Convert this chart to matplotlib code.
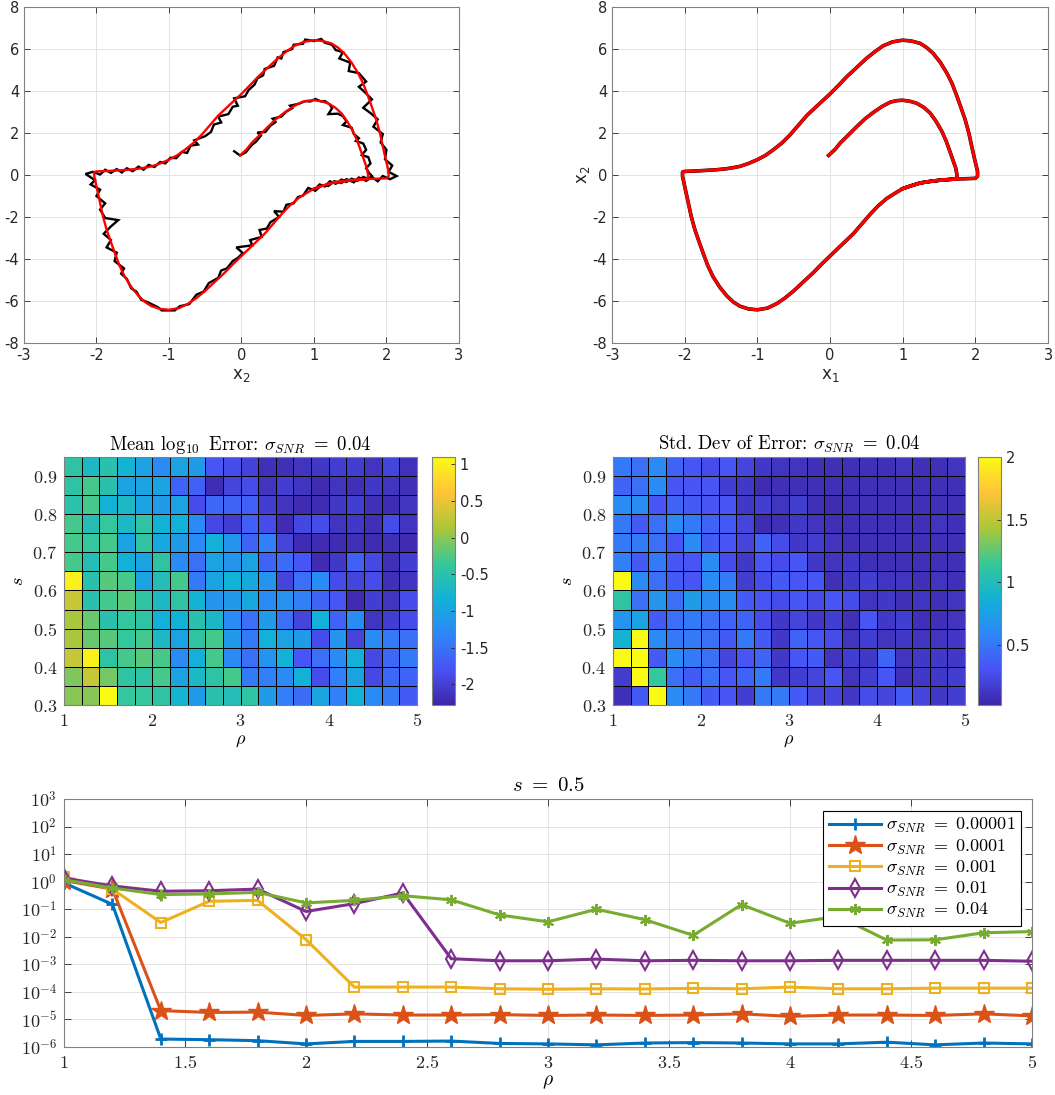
import matplotlib
matplotlib.use('Agg')
import matplotlib.pyplot as plt
import numpy as np
from matplotlib.colors import LinearSegmentedColormap
from matplotlib.ticker import FuncFormatter, NullLocator

plt.rcParams['mathtext.fontset'] = 'cm'
plt.rcParams['axes.unicode_minus'] = False

# =============== phase portrait data ===============
# reconstructed trajectory: inner arc from (0,1), then the limit cycle
model_x = [-0.02, 0.07, 0.14, 0.26, 0.37, 0.48, 0.60, 0.72, 0.83, 0.92, 1.00, 1.10, 1.19, 1.29, 1.38,
           1.46, 1.54, 1.60, 1.65, 1.69, 1.73, 1.75, 1.73,
           1.62, 1.51, 1.37, 1.24, 1.12, 1.00, 0.89, 0.78, 0.66, 0.55, 0.44, 0.32, 0.16, 0.00, -0.12,
           -0.23, -0.37, -0.50, -0.62, -0.73, -0.86, -1.00, -1.12, -1.24, -1.33, -1.42, -1.52, -1.61,
           -1.68, -1.74, -1.80, -1.86, -1.91, -1.95, -1.99, -2.03, -2.03,
           -2.00, -1.85, -1.70, -1.56, -1.42, -1.33, -1.24, -1.12, -1.00, -0.89, -0.78, -0.66, -0.55,
           -0.44, -0.32, -0.16, 0.00, 0.12, 0.23, 0.37, 0.50, 0.62, 0.73, 0.86, 1.00, 1.12, 1.24,
           1.33, 1.42, 1.52, 1.61, 1.68, 1.74, 1.80, 1.86, 1.91, 1.95, 1.99, 2.03, 2.03, 2.00,
           1.85, 1.74, 1.62, 1.51, 1.37, 1.24, 1.12, 1.00]
model_y = [0.93, 1.22, 1.52, 1.93, 2.31, 2.67, 2.99, 3.27, 3.47, 3.54, 3.56, 3.51, 3.42, 3.22, 2.94,
           2.55, 2.07, 1.60, 1.12, 0.72, 0.33, -0.06, -0.19,
           -0.22, -0.25, -0.31, -0.38, -0.51, -0.65, -0.88, -1.12, -1.48, -1.88, -2.32, -2.80, -3.33,
           -3.86, -4.26, -4.65, -5.10, -5.52, -5.86, -6.12, -6.34, -6.42, -6.38, -6.25, -6.05, -5.76,
           -5.33, -4.84, -4.33, -3.78, -3.20, -2.60, -1.97, -1.33, -0.70, -0.06, 0.14,
           0.17, 0.19, 0.22, 0.25, 0.30, 0.35, 0.41, 0.55, 0.73, 0.93, 1.20, 1.53, 1.91,
           2.35, 2.83, 3.35, 3.86, 4.28, 4.68, 5.13, 5.55, 5.88, 6.15, 6.34, 6.42, 6.38, 6.27,
           6.07, 5.79, 5.35, 4.84, 4.35, 3.81, 3.23, 2.63, 2.00, 1.36, 0.75, 0.17, -0.06, -0.16,
           -0.18, -0.19, -0.22, -0.25, -0.31, -0.38, -0.51, -0.65]

# noisy measured trajectory
noisy_x = [-0.10, -0.02, 0.06, 0.14, 0.20, 0.27, 0.22, 0.33, 0.40, 0.47, 0.43, 0.55, 0.62, 0.70, 0.67,
           0.80, 0.88, 0.95, 1.02, 1.10, 1.15, 1.22, 1.25, 1.20, 1.33, 1.40, 1.45, 1.40, 1.52, 1.55,
           1.62, 1.58, 1.68, 1.72, 1.66, 1.75, 1.78, 1.72, 1.76, 1.80, 1.75,
           1.68, 1.60, 1.52, 1.45, 1.38, 1.30, 1.22, 1.15, 1.08, 1.00, 0.92, 0.85, 0.78, 0.72, 0.62,
           0.58, 0.45, 0.52, 0.40, 0.35, 0.25, 0.28, 0.12, 0.15, -0.07, 0.02, -0.05, -0.12, -0.20,
           -0.28, -0.32, -0.45, -0.52, -0.62, -0.72, -0.85, -0.92, -1.10, -1.15,
           -1.30, -1.38, -1.45, -1.52, -1.58, -1.66, -1.62, -1.75, -1.72, -1.86, -1.80, -1.90, -1.80,
           -1.70, -1.88, -1.95, -1.88, -2.00, -1.95, -2.08, -2.02, -2.15, -2.05,
           -1.95, -1.88, -1.80, -1.72, -1.65, -1.58, -1.50, -1.42, -1.35, -1.28, -1.20, -1.12, -1.05,
           -0.98, -0.90, -0.82, -0.75, -0.70, -0.60, -0.65, -0.50, -0.42, -0.38, -0.28, -0.32, -0.18,
           -0.12, -0.05, -0.10, 0.05, 0.10, 0.18, 0.22, 0.30, 0.32, 0.45, 0.50, 0.55, 0.58, 0.70,
           0.72, 0.85, 0.88, 1.00, 1.10, 1.15, 1.25, 1.30, 1.40, 1.35, 1.50, 1.48, 1.62, 1.72, 1.62,
           1.70, 1.80, 1.68, 1.78, 1.88, 1.82, 1.95, 1.92, 2.00, 1.98, 2.08, 2.03, 2.14, 2.05,
           1.95, 1.88, 1.80, 1.72, 1.62, 1.55, 1.45, 1.38, 1.28, 1.20, 1.10, 1.02]
noisy_y = [1.13, 0.93, 1.08, 1.42, 1.58, 1.88, 2.02, 2.05, 2.35, 2.52, 2.68, 2.78, 3.02, 3.18, 3.30,
           3.40, 3.52, 3.50, 3.62, 3.50, 3.52, 3.35, 3.18, 2.90, 2.92, 2.80, 2.55, 2.38, 2.25, 1.95,
           1.75, 1.62, 1.50, 1.20, 0.95, 0.85, 0.55, 0.32, 0.10, -0.05, -0.18,
           -0.10, -0.28, -0.18, -0.33, -0.22, -0.42, -0.30, -0.55, -0.45, -0.72, -0.62, -0.98, -1.05,
           -1.35, -1.42, -1.75, -1.72, -2.00, -2.25, -2.55, -2.62, -2.95, -3.10, -3.35, -3.45, -3.72,
           -3.95, -4.10, -4.45, -4.55, -4.90, -5.15, -5.55, -5.70, -6.15, -6.25, -6.45, -6.45, -6.30,
           -6.05, -5.95, -5.55, -5.40, -4.95, -4.70, -4.45, -4.10, -3.70, -3.45, -3.10, -2.80, -2.45,
           -2.15, -2.05, -1.65, -1.35, -1.00, -0.70, -0.45, -0.25, 0.05, 0.15,
           0.02, 0.25, 0.10, 0.28, 0.12, 0.32, 0.18, 0.40, 0.25, 0.48, 0.38, 0.62, 0.55,
           0.82, 0.80, 1.10, 1.05, 1.40, 1.45, 1.65, 1.85, 2.05, 2.40, 2.50, 2.78, 2.90,
           3.25, 3.30, 3.65, 3.75, 4.05, 4.30, 4.60, 4.75, 5.05, 5.20, 5.60, 5.55, 5.85, 6.00,
           6.20, 6.25, 6.45, 6.38, 6.48, 6.30, 6.20, 5.95, 5.85, 5.55, 5.35, 4.95, 4.85, 4.45, 4.20,
           3.95, 3.60, 3.20, 2.95, 2.65, 2.30, 1.95, 1.55, 1.20, 0.75, 0.45, 0.15, -0.05, -0.20,
           -0.05, -0.30, -0.10, -0.28, -0.12, -0.35, -0.20, -0.38, -0.30, -0.52, -0.50, -0.75]

# =============== parameter sweep data ===============
rho_edges = [1.0, 1.2, 1.4, 1.6, 1.8, 2.0, 2.2, 2.4, 2.6, 2.8, 3.0,
             3.2, 3.4, 3.6, 3.8, 4.0, 4.2, 4.4, 4.6, 4.8, 5.0]
s_edges = [0.30, 0.35, 0.40, 0.45, 0.50, 0.55, 0.60, 0.65, 0.70, 0.75, 0.80, 0.85, 0.90, 0.95]

# mean log10 error, rows listed from s=0.95 (top) down to s=0.30
mean_err = [
    [-0.45, -0.69, -0.52, -0.80, -1.00, -1.27, -1.00, -1.10, -1.77, -1.87, -1.97, -2.18, -2.18, -2.13, -2.08, -2.01, -2.01, -2.13, -1.94, -2.15],
    [-0.45, -0.29, -0.52, -0.99, -0.99, -0.99, -1.64, -1.66, -2.20, -1.94, -1.87, -2.13, -2.01, -2.13, -2.21, -2.13, -2.18, -2.08, -2.13, -2.18],
    [-0.50, -0.29, -0.83, -0.69, -0.99, -1.10, -0.99, -1.87, -1.60, -1.64, -1.66, -2.01, -2.13, -2.21, -2.21, -2.08, -2.01, -2.18, -2.21, -2.13],
    [-0.29, -0.59, -0.39, -0.69, -0.45, -0.83, -0.85, -1.27, -1.90, -2.01, -1.66, -1.87, -2.21, -1.92, -1.87, -2.13, -2.08, -2.18, -1.87, -2.13],
    [-0.29, -0.39, -0.29, -0.99, -0.45, -0.93, -1.10, -1.27, -0.85, -1.16, -1.64, -1.37, -1.94, -2.21, -2.21, -2.21, -2.18, -2.21, -2.18, -2.21],
    [-0.29, -0.59, -0.29, -0.85, -0.99, -0.45, -1.27, -1.54, -0.99, -1.16, -0.99, -1.64, -1.56, -1.77, -2.21, -2.08, -1.66, -1.90, -2.18, -2.01],
    [1.00, -0.52, -0.22, -0.29, -0.99, -0.59, -0.29, -1.43, -0.99, -0.83, -0.93, -1.16, -1.94, -1.54, -1.27, -1.87, -1.94, -1.87, -2.18, -2.13],
    [0.29, -0.52, -0.29, -0.22, -0.45, -0.69, -0.45, -0.80, -1.16, -1.10, -0.93, -1.27, -1.20, -1.37, -1.64, -1.77, -2.21, -2.01, -2.13, -1.87],
    [0.12, -0.15, -0.52, -0.39, -0.45, -0.85, -0.83, -0.52, -0.72, -1.27, -1.54, -1.10, -1.54, -1.94, -0.85, -1.64, -1.27, -2.13, -2.01, -1.87],
    [0.12, -0.15, -0.22, -0.39, -0.29, -0.69, -0.99, -0.45, -0.29, -1.10, -1.43, -0.85, -0.99, -1.10, -1.87, -1.16, -1.94, -1.27, -1.43, -1.54],
    [0.29, 1.00, -0.45, -0.29, -0.22, -0.29, -1.27, -0.85, -0.29, -1.27, -1.54, -1.16, -0.85, -1.77, -1.54, -1.27, -0.85, -1.90, -1.60, -1.43],
    [-0.05, 0.29, -0.10, -0.45, -0.45, -0.29, -0.99, -0.69, -0.45, -0.29, -1.43, -1.37, -1.27, -0.85, -1.87, -1.37, -0.99, -1.90, -1.60, -1.64],
    [-0.02, -0.02, 1.10, -0.39, -0.39, -0.45, -0.78, -1.10, -0.52, -0.59, -0.45, -1.10, -1.37, -1.56, -0.99, -1.37, -0.83, -1.27, -1.43, -1.72],
]

# standard deviation of error, same layout
std_err = [
    [0.52, 0.46, 0.61, 0.40, 0.32, 0.26, 0.32, 0.22, 0.14, 0.11, 0.11, 0.08, 0.08, 0.08, 0.08, 0.08, 0.11, 0.08, 0.08, 0.11],
    [0.40, 0.46, 0.61, 0.32, 0.32, 0.32, 0.18, 0.14, 0.06, 0.08, 0.08, 0.08, 0.08, 0.08, 0.08, 0.08, 0.08, 0.08, 0.08, 0.08],
    [0.61, 0.61, 0.32, 0.40, 0.35, 0.32, 0.32, 0.14, 0.18, 0.11, 0.18, 0.08, 0.06, 0.08, 0.08, 0.08, 0.08, 0.08, 0.08, 0.08],
    [0.52, 0.35, 0.46, 0.61, 0.52, 0.40, 0.35, 0.22, 0.06, 0.08, 0.14, 0.11, 0.08, 0.08, 0.08, 0.08, 0.08, 0.08, 0.11, 0.08],
    [0.52, 0.52, 0.46, 0.32, 0.61, 0.35, 0.32, 0.22, 0.40, 0.26, 0.14, 0.18, 0.11, 0.08, 0.08, 0.08, 0.08, 0.08, 0.08, 0.08],
    [0.55, 0.35, 0.52, 0.32, 0.32, 0.61, 0.26, 0.14, 0.32, 0.26, 0.32, 0.14, 0.11, 0.14, 0.08, 0.08, 0.08, 0.08, 0.08, 0.08],
    [2.00, 0.61, 0.46, 0.35, 0.32, 0.61, 0.52, 0.18, 0.26, 0.35, 0.32, 0.32, 0.08, 0.14, 0.18, 0.11, 0.11, 0.08, 0.11, 0.08],
    [1.09, 0.46, 0.67, 0.46, 0.71, 0.61, 0.61, 0.35, 0.32, 0.26, 0.32, 0.26, 0.32, 0.26, 0.11, 0.14, 0.08, 0.11, 0.08, 0.11],
    [0.67, 0.77, 0.35, 0.46, 0.52, 0.46, 0.40, 0.40, 0.26, 0.14, 0.22, 0.14, 0.18, 0.08, 0.32, 0.14, 0.18, 0.08, 0.08, 0.11],
    [0.89, 2.00, 0.61, 0.52, 0.52, 0.46, 0.35, 0.52, 0.35, 0.14, 0.40, 0.32, 0.26, 0.11, 0.18, 0.11, 0.14, 0.11, 0.11, 0.14],
    [2.00, 2.00, 0.35, 0.61, 0.52, 0.46, 0.22, 0.32, 0.40, 0.14, 0.32, 0.35, 0.11, 0.18, 0.14, 0.40, 0.11, 0.14, 0.14, 0.14],
    [0.16, 2.00, 1.13, 0.46, 0.35, 0.46, 0.32, 0.40, 0.52, 0.14, 0.18, 0.22, 0.32, 0.11, 0.18, 0.32, 0.08, 0.14, 0.14, 0.18],
    [0.08, 0.35, 2.00, 0.61, 0.52, 0.35, 0.32, 0.18, 0.52, 0.52, 0.35, 0.22, 0.22, 0.14, 0.26, 0.22, 0.35, 0.22, 0.14, 0.18],
]

# =============== error at s = 0.5 ===============
rho = rho_edges
err_1e5 = [0.9, 0.15, 1.95e-6, 1.85e-6, 1.7e-6, 1.3e-6, 1.6e-6, 1.6e-6, 1.65e-6, 1.35e-6, 1.3e-6,
           1.2e-6, 1.4e-6, 1.45e-6, 1.4e-6, 1.3e-6, 1.3e-6, 1.5e-6, 1.2e-6, 1.4e-6, 1.3e-6]
err_1e4 = [1.1, 0.54, 2.1e-5, 1.8e-5, 1.85e-5, 1.4e-5, 1.6e-5, 1.45e-5, 1.45e-5, 1.5e-5, 1.4e-5,
           1.45e-5, 1.4e-5, 1.45e-5, 1.6e-5, 1.3e-5, 1.45e-5, 1.45e-5, 1.4e-5, 1.6e-5, 1.35e-5]
err_1e3 = [1.5, 0.54, 0.033, 0.195, 0.21, 0.0079, 1.5e-4, 1.5e-4, 1.5e-4, 1.3e-4, 1.25e-4,
           1.3e-4, 1.28e-4, 1.35e-4, 1.3e-4, 1.5e-4, 1.3e-4, 1.3e-4, 1.37e-4, 1.37e-4, 1.37e-4]
err_1e2 = [1.35, 0.7, 0.45, 0.47, 0.54, 0.083, 0.16, 0.39, 1.6e-3, 1.35e-3, 1.35e-3,
           1.55e-3, 1.35e-3, 1.4e-3, 1.35e-3, 1.35e-3, 1.4e-3, 1.4e-3, 1.4e-3, 1.4e-3, 1.3e-3]
err_4e2 = [1.17, 0.59, 0.34, 0.36, 0.41, 0.17, 0.21, 0.31, 0.22, 0.062, 0.035,
           0.1, 0.042, 0.0113, 0.148, 0.031, 0.055, 0.0076, 0.0078, 0.014, 0.0155]
snr_labels = ['0.00001', '0.0001', '0.001', '0.01', '0.04']

# =============== plotting ===============
parula = LinearSegmentedColormap.from_list('parula', [
    (0.2422, 0.1504, 0.6603), (0.2810, 0.3228, 0.9579), (0.1786, 0.5289, 0.9682),
    (0.0689, 0.6948, 0.8394), (0.2161, 0.7843, 0.5923), (0.6720, 0.7793, 0.2227),
    (0.9970, 0.7659, 0.2199), (0.9769, 0.9839, 0.0805)])

edge_col = '#808080'
txt_col = '#262626'
grid_col = '#e3e3e3'


def style_axes(ax):
    ax.tick_params(direction='in', top=True, right=True, length=4, width=0.6,
                   color=txt_col, labelcolor=txt_col)
    for sp in ax.spines.values():
        sp.set_color(edge_col)
        sp.set_linewidth(0.8)
    ax.grid(True, color=grid_col, linewidth=0.7)
    ax.set_axisbelow(True)


fig = plt.figure(figsize=(10.55, 10.95), dpi=100)

# phase portraits
ax1 = fig.add_axes([0.0227, 0.6868, 0.4123, 0.3068])
ax2 = fig.add_axes([0.5801, 0.6868, 0.4133, 0.3068])
ax1.plot(noisy_x, noisy_y, color='k', lw=1.7, solid_joinstyle='miter')
ax1.plot(model_x, model_y, color='r', lw=1.7, solid_joinstyle='round')
ax2.plot(model_x, model_y, color='k', lw=2.6, solid_joinstyle='round')
ax2.plot(model_x, model_y, color='r', lw=2.2, solid_joinstyle='round')
for ax in (ax1, ax2):
    style_axes(ax)
    ax.set_xlim(-3, 3)
    ax.set_ylim(-8, 8)
    ax.set_xticks(range(-3, 4))
    ax.set_yticks(range(-8, 9, 2))
    ax.tick_params(labelsize=10.5)
ax1.set_xlabel('x$_2$', fontsize=12, color=txt_col, math_fontfamily='dejavusans', labelpad=2)
ax2.set_xlabel('x$_1$', fontsize=12, color=txt_col, math_fontfamily='dejavusans', labelpad=2)
ax2.set_ylabel('x$_2$', fontsize=12, color=txt_col, math_fontfamily='dejavusans', labelpad=0)

# heatmaps
num_fmt = FuncFormatter(lambda v, p: '$%g$' % v)
heat_specs = [
    ([0.0607, 0.3562, 0.3346, 0.2265], [0.4095, 0.3562, 0.0218, 0.2265], mean_err, -2.28, 1.10,
     [-2, -1.5, -1, -0.5, 0, 0.5, 1], ['-2', '-1.5', '-1', '-0.5', '0', '0.5', '1'],
     r'Mean $\log_{10}$ Error: $\sigma_{SNR}\ =\ 0.04$'),
    ([0.5810, 0.3562, 0.3336, 0.2265], [0.9270, 0.3562, 0.0218, 0.2265], std_err, 0.02, 2.0,
     [0.5, 1, 1.5, 2], ['0.5', '1', '1.5', '2'],
     r'Std. Dev of Error: $\sigma_{SNR}\ =\ 0.04$'),
]
for pos, cpos, vals, vmin, vmax, cticks, clabels, title in heat_specs:
    ax = fig.add_axes(pos)
    mesh = ax.pcolormesh(rho_edges, s_edges, np.flipud(np.array(vals)), cmap=parula,
                         vmin=vmin, vmax=vmax, edgecolors='k', linewidth=0.5)
    ax.set_xlim(1, 5)
    ax.set_ylim(0.3, 0.95)
    ax.set_xticks([1, 2, 3, 4, 5])
    ax.set_yticks([0.3, 0.4, 0.5, 0.6, 0.7, 0.8, 0.9])
    ax.xaxis.set_major_formatter(num_fmt)
    ax.yaxis.set_major_formatter(num_fmt)
    ax.tick_params(length=0, labelsize=13, labelcolor=txt_col, pad=5)
    for sp in ax.spines.values():
        sp.set_color(edge_col)
        sp.set_linewidth(0.8)
    ax.set_xlabel(r'$\rho$', fontsize=13, labelpad=1)
    ax.set_ylabel(r'$s$', fontsize=13, labelpad=4)
    ax.set_title(title, fontfamily='cmr10', fontsize=13.5, pad=5)
    cax = fig.add_axes(cpos)
    cb = fig.colorbar(mesh, cax=cax)
    cb.set_ticks(cticks)
    cb.set_ticklabels(clabels)
    cb.ax.tick_params(direction='in', length=3, width=0.6, labelsize=10.5,
                      color=txt_col, labelcolor=txt_col)
    cb.outline.set_edgecolor(edge_col)
    cb.outline.set_linewidth(0.8)

# error against rho at s = 0.5
ax5 = fig.add_axes([0.0607, 0.0438, 0.9175, 0.2265])
style_axes(ax5)
series = [err_1e5, err_1e4, err_1e3, err_1e2, err_4e2]
colors = ['#0072BD', '#D95319', '#EDB120', '#7E2F8E', '#77AC30']
markers = [dict(marker='+', ms=8, mew=2.0),
           dict(marker='*', ms=15, mew=1.0),
           dict(marker='s', ms=7, mew=1.5, mfc='none'),
           dict(marker='d', ms=9, mew=1.5, mfc='none'),
           dict(marker=(6, 2, 0), ms=8, mew=1.5)]
for vals, col, mk, lab in zip(series, colors, markers, snr_labels):
    ax5.plot(rho, vals, color=col, lw=2.2, label=r'$\sigma_{SNR}\ =\ %s$' % lab, **mk)
ax5.set_yscale('log')
ax5.set_xlim(1, 5)
ax5.set_ylim(1e-6, 1e3)
ax5.set_xticks([1, 1.5, 2, 2.5, 3, 3.5, 4, 4.5, 5])
ax5.set_yticks([10.0 ** k for k in range(-6, 4)])
ax5.yaxis.set_minor_locator(NullLocator())
ax5.xaxis.set_major_formatter(num_fmt)
ax5.yaxis.set_major_formatter(FuncFormatter(lambda v, p: r'$10^{%d}$' % round(np.log10(v))))
ax5.tick_params(labelsize=13, length=5, pad=5)
ax5.set_xlabel(r'$\rho$', fontsize=14, labelpad=0)
ax5.set_title(r'$s\ =\ 0.5$', fontsize=15, pad=6)
leg = ax5.legend(loc='upper right', bbox_to_anchor=(0.989, 0.952), borderaxespad=0,
                 fontsize=13, fancybox=False, framealpha=1, edgecolor='k',
                 handlelength=2.9, labelspacing=0.12, borderpad=0.3, handletextpad=0.3)
leg.get_frame().set_linewidth(0.8)

fig.savefig('out.png', dpi=100)
